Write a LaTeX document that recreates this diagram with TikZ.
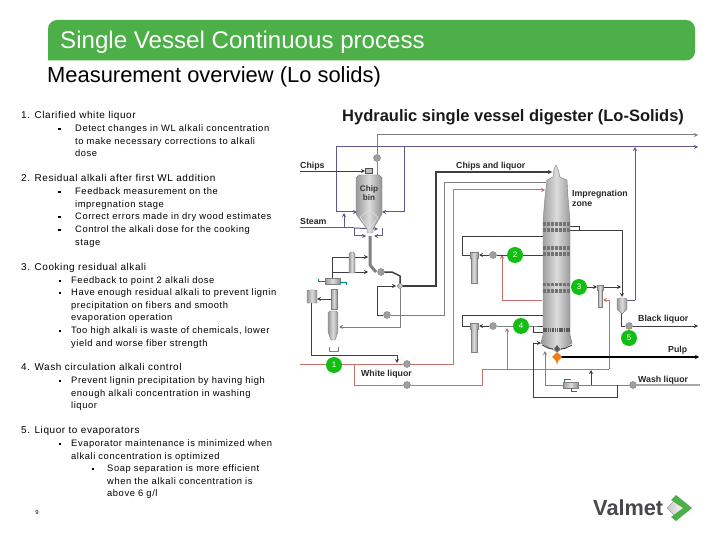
\documentclass[tikz,border=0pt]{standalone}
\usepackage{fontspec}
\usepackage{tikz}
\usetikzlibrary{arrows.meta,positioning}
\setmainfont{Liberation Sans}
\newfontfamily\bodyfont[LetterSpace=6]{Liberation Sans}
\definecolor{headgreen}{RGB}{76,175,72}
\definecolor{dotgreen}{RGB}{18,190,18}
\definecolor{liquorred}{RGB}{200,112,106}
\definecolor{steamblue}{RGB}{92,90,142}
\definecolor{pipegrey}{RGB}{128,128,128}
\definecolor{pipedark}{RGB}{62,62,62}
\definecolor{logogrey}{RGB}{70,72,76}
\tikzset{
	tip/.style={-{Stealth[length=4bp,width=4bp]}},
	bodytext/.style={anchor=north west,inner sep=0pt,align=left,font=\bodyfont\fontsize{9.4}{12.65}\selectfont},
	headtext/.style={anchor=north west,inner sep=0pt,align=left,font=\bodyfont\fontsize{10}{12.65}\selectfont},
	bulletmark/.style={fill=black,inner sep=0pt,minimum size=2.6bp},
	chartlabel/.style={anchor=west,inner sep=0pt,align=left,font=\bfseries\fontsize{8.8}{10}\selectfont,color=black!85},
	pumpdot/.style={circle,draw=gray,fill=gray!75,inner sep=0pt,minimum size=7bp},
	tagdot/.style={circle,fill=dotgreen,inner sep=0pt,minimum size=16bp,text=white,font=\fontsize{8}{9}\selectfont},
	greypipe/.style={color=pipegrey,line width=1bp},
	bluepipe/.style={color=steamblue,line width=1bp},
	darkpipe/.style={color=pipedark,line width=0.9bp},
	redpipe/.style={color=liquorred,line width=1bp},
	vesselfill/.style={left color=gray!80,right color=gray!85,middle color=gray!28,draw=gray,line width=0.4bp},
	screenband/.style={line width=3.6bp,color=gray!90!black,dash pattern=on 2.5bp off 1.5bp},
}
\begin{document}
\begin{tikzpicture}[x=1bp,y=-1bp]
	\useasboundingbox (0,0) rectangle (720,540);
	
	\fill[headgreen,rounded corners=9bp] (48,40) -- (48,20) -- (695,20) -- (695,60.5) -- (60,60.5) [sharp corners] -- (48,60.5) -- cycle;
	\node[anchor=west,inner sep=0pt,text=white,font=\fontsize{24.2}{28}\selectfont] (T) at (60,42.5) {Single Vessel Continuous process};
	\node[anchor=west,inner sep=0pt,font=\fontsize{22}{26}\selectfont] (S) at (47,76.5) {Measurement overview (Lo solids)};
	
	\node[headtext] (N1) at (21,111.5) {1. Clarified white liquor};
	\node[bulletmark] (B1) at (59.5,129) {};
	\node[bodytext] (L1) at (75,124.5) {Detect changes in WL alkali concentration\\to make necessary corrections to alkali\\dose};
	
	\node[headtext] (N2) at (21,174.5) {2. Residual alkali after first WL addition};
	\node[bulletmark] (B2) at (59.5,192) {};
	\node[bodytext] (L2) at (75,187.5) {Feedback measurement on the\\impregnation stage};
	\node[bulletmark] (B3) at (59.5,217) {};
	\node[bodytext] (L3) at (75,212.5) {Correct errors made in dry wood estimates};
	\node[bulletmark] (B4) at (59.5,230) {};
	\node[bodytext] (L4) at (75,225.5) {Control the alkali dose for the cooking\\stage};
	
	\node[headtext] (N3) at (21,263.5) {3. Cooking residual alkali};
	\node[bulletmark] (B5) at (60,281) {};
	\node[bodytext] (L5) at (71,276.5) {Feedback to point 2 alkali dose};
	\node[bulletmark] (B6) at (60,293) {};
	\node[bodytext] (L6) at (71,288.5) {Have enough residual alkali to prevent lignin\\precipitation on fibers and smooth\\evaporation operation};
	\node[bulletmark] (B7) at (60,331) {};
	\node[bodytext] (L7) at (71,326.5) {Too high alkali is waste of chemicals, lower\\yield and worse fiber strength};
	
	\node[headtext] (N4) at (21,363.5) {4. Wash circulation alkali control};
	\node[bulletmark] (B8) at (60,381) {};
	\node[bodytext] (L8) at (71,376.5) {Prevent lignin precipitation by having high\\enough alkali concentration in washing\\liquor};
	
	\node[headtext] (N5) at (21,426.5) {5. Liquor to evaporators};
	\node[bulletmark] (B9) at (60,444) {};
	\node[bodytext] (L9) at (71,439.5) {Evaporator maintenance is minimized when\\alkali concentration is optimized};
	\node[bulletmark] (B10) at (93,469) {};
	\node[bodytext] (L10) at (107,464.5) {Soap separation is more efficient\\when the alkali concentration is\\above 6 g/l};
	
	\node[inner sep=0pt,font=\fontsize{6}{7}\selectfont] (PG) at (37,512) {9};
	
	\node[anchor=west,inner sep=0pt,font=\bfseries\fontsize{16.55}{19}\selectfont,color=black!90] (H) at (342,117) {Hydraulic single vessel digester (Lo-Solids)};
	
	\node[pumpdot] (P1) at (377,158) {};
	\node[pumpdot] (P2) at (381,272) {};
	\node[pumpdot] (P3) at (387,315) {};
	\node[pumpdot] (P4) at (407,364) {};
	\node[pumpdot] (P5) at (407,385) {};
	\node[pumpdot] (P6) at (493,255) {};
	\node[pumpdot] (P7) at (493,326) {};
	\node[pumpdot] (P8) at (629,326) {};
	\node[pumpdot] (P9) at (633,385) {};
	
	\coordinate (GA) at (377,135);
	\coordinate (GB) at (698,135);
	\coordinate (GC) at (377,176);
	\draw[greypipe,tip] (GA)--(GB);
	\draw[greypipe] (GA)--(P1);
	\draw[greypipe] (P1)--(GC);
	
	\coordinate (BA) at (336,147);
	\coordinate (BB) at (698,147);
	\coordinate (BC) at (357,212);
	\coordinate (BD) at (404,147);
	\coordinate (BE) at (382,212);
	\coordinate (BF) at (635,147);
	\coordinate (BG) at (635,300);
	\coordinate (BH) at (627,300);
	\draw[bluepipe,tip] (BA)--(BB);
	\draw[bluepipe,tip] (BA)|-(BC);
	\draw[bluepipe,tip] (BD)|-(BE);
	\draw[bluepipe,tip] (BG)--(BF);
	\draw[bluepipe] (BG)--(BH);
	
	\coordinate (SA) at (300,228);
	\coordinate (SB) at (354,228);
	\coordinate (SC) at (344,228);
	\coordinate (SD) at (344,213);
	\coordinate (SE) at (382,228);
	\coordinate (SF) at (366,236);
	\coordinate (SG) at (374,236);
	\coordinate (SI) at (378,229);
	\draw[bluepipe] (SA)--(SB);
	\draw[bluepipe,tip] (SC)--(SD);
	\draw[bluepipe,tip] (SB)|-(SF);
	\draw[bluepipe,tip] (SE)|-(SG);
	\draw[bluepipe,tip] (SB)--(SI);
	
	\coordinate (CA) at (300,171);
	\coordinate (CB) at (365,171);
	\draw[darkpipe,tip] (CA)--(CB);
	
	\coordinate (DA) at (332,257);
	\coordinate (DB) at (368,257);
	\coordinate (DC) at (332,272);
	\coordinate (DD) at (368,272);
	\coordinate (DE) at (332,280);
	\draw[darkpipe,tip] (DA)--(DB);
	\draw[darkpipe,tip] (DC)--(DD);
	\draw[darkpipe] (DA)--(DE);
	
	\coordinate (KA) at (370,236);
	\coordinate (KB) at (370,265);
	\coordinate (KC) at (376,272);
	\draw[color=gray,line width=3bp,line join=round] (KA)--(KB)--(KC);
	
	\coordinate (KD) at (392,272);
	\coordinate (KE) at (400,276);
	\coordinate (KF) at (400,286);
	\coordinate (KG) at (436,286);
	\coordinate (KH) at (436,172);
	\coordinate (KI) at (552,172);
	\draw[color=pipedark,line width=1.5bp,line join=round] (P2)--(KD)--(KE)--(KF);
	\draw[color=pipedark,line width=1.5bp,tip] (KF)--(KG)--(KH)--(KI);
	
	\coordinate (LA) at (444,315);
	\coordinate (LB) at (444,182);
	\coordinate (LC) at (546,182);
	\coordinate (LD) at (377,315);
	\coordinate (LE) at (377,286);
	\coordinate (LF) at (396,286);
	\draw[greypipe,line width=0.9bp] (P3)--(LA)--(LB)--(LC);
	\draw[darkpipe] (P3)--(LD);
	\draw[darkpipe,tip] (LD)--(LE)--(LF);
	
	\coordinate (MA) at (400,286);
	\coordinate (MB) at (400,327);
	\coordinate (MC) at (339,327);
	\draw[greypipe,tip] (MA)--(MB)--(MC);
	
	\coordinate (QA) at (331,299);
	\coordinate (QB) at (317,299);
	\coordinate (QC) at (311,303);
	\coordinate (QD) at (311,355);
	\coordinate (QE) at (397,355);
	\coordinate (QF) at (397,363);
	\draw[darkpipe,tip] (QA)--(QB);
	\draw[darkpipe,tip] (QC)--(QD)--(QE)--(QF);
	
	\coordinate (RA) at (300,364);
	\coordinate (RB) at (453,364);
	\coordinate (RC) at (453,190);
	\coordinate (RD) at (545,190);
	\coordinate (RE) at (354,364);
	\coordinate (RF) at (354,385);
	\coordinate (RG) at (482,385);
	\coordinate (RH) at (482,369);
	\coordinate (RI) at (609,369);
	\coordinate (RJ) at (609,300);
	\coordinate (RK) at (603,300);
	\coordinate (RL) at (507,369);
	\coordinate (RM) at (507,328);
	\coordinate (RN) at (542,300);
	\coordinate (RO) at (502,300);
	\coordinate (RP) at (502,255);
	\draw[redpipe] (RA)--(P4);
	\draw[redpipe,tip] (P4)--(RB)--(RC)--(RD);
	\draw[redpipe] (RE)--(RF)--(P5);
	\draw[redpipe] (P5)--(RG)--(RH)--(RI);
	\draw[redpipe,tip] (RI)--(RJ)--(RK);
	\draw[redpipe,tip] (RL)--(RM);
	\draw[redpipe,tip] (RN)--(RO)--(RP);
	
	\coordinate (UA) at (462,236);
	\coordinate (UB) at (557,236);
	\coordinate (UC) at (557,243);
	\coordinate (UD) at (462,255);
	\coordinate (UE) at (479,255);
	\coordinate (UF) at (543,255);
	\coordinate (UG) at (470,255);
	\draw[darkpipe,tip] (UD)--(UA)--(UB)--(UC);
	\draw[darkpipe] (UD)--(UG);
	\draw[darkpipe,tip] (P6)--(UE);
	\draw[darkpipe] (P6)--(UF);
	
	\coordinate (VA) at (462,315);
	\coordinate (VB) at (557,315);
	\coordinate (VC) at (557,323);
	\coordinate (VD) at (462,326);
	\coordinate (VE) at (479,326);
	\coordinate (VF) at (533,326);
	\coordinate (VG) at (470,326);
	\coordinate (VH) at (543,326);
	\coordinate (VI) at (533,332);
	\coordinate (VJ) at (543,332);
	\draw[darkpipe,tip] (VD)--(VA)--(VB)--(VC);
	\draw[darkpipe] (VD)--(VG);
	\draw[darkpipe,tip] (P7)--(VE);
	\draw[darkpipe] (P7)--(VF)--(VH);
	\draw[darkpipe] (VF)--(VI)--(VJ);
	
	\coordinate (WA) at (570,226);
	\coordinate (WB) at (579,226);
	\coordinate (WC) at (579,230);
	\coordinate (WD) at (622,230);
	\coordinate (WE) at (622,297);
	\coordinate (WF) at (570,230);
	\draw[darkpipe] (WA)--(WB)--(WC)--(WF);
	\draw[darkpipe,tip] (WC)--(WD)--(WE);
	
	\coordinate (XA) at (587,287);
	\coordinate (XB) at (597,287);
	\coordinate (XC) at (603,287);
	\coordinate (XD) at (621,287);
	\draw[darkpipe,tip] (XA)--(XB);
	\draw[darkpipe,tip] (XC)--(XD);
	
	\coordinate (YA) at (621,313);
	\coordinate (YB) at (621,326);
	\coordinate (YC) at (698,326);
	\draw[darkpipe] (YA)--(YB)--(P8);
	\draw[darkpipe,tip] (P8)--(YC);
	
	\coordinate (ZA) at (557,357);
	\coordinate (ZB) at (699,357);
	\draw[color=black,line width=1.6bp,tip] (ZA)--(ZB);
	
	\coordinate (EA) at (700,385);
	\coordinate (EB) at (545,385);
	\coordinate (EC) at (545,351);
	\coordinate (ED) at (591,385);
	\coordinate (EE) at (591,370);
	\coordinate (EF) at (617,385);
	\coordinate (EG) at (617,397);
	\coordinate (EH) at (533,397);
	\coordinate (EI) at (533,343);
	\coordinate (EJ) at (541,343);
	\draw[greypipe,color=gray!70,line width=1.2bp] (EA)--(P9);
	\draw[greypipe,tip] (P9)--(EB)--(EC);
	\draw[darkpipe,tip] (ED)--(EE);
	\draw[darkpipe,tip] (EF)--(EG)--(EH)--(EI)--(EJ);
	
	\draw[vesselfill] (356,178) -- (359,175) -- (379,175) -- (382,178) -- (382,214) -- (373,229) -- (373,233) -- (367,233) -- (367,229) -- (356,214) -- cycle;
	\draw[color=white!75!gray,line width=0.6bp] (360,217) -- (369,210) -- (378,217) -- (373,224) -- (369,228) -- (365,224) -- cycle;
	\node[rectangle,draw=gray!60!black,fill=gray!50,inner sep=0pt,minimum width=7bp,minimum height=5bp] (FD) at (369,171) {};
	\node[inner sep=0pt,align=center,font=\bfseries\fontsize{8.2}{9}\selectfont,color=black!80] (CL) at (369,193.5) {Chip\\bin};
	
	\draw[vesselfill] (349,254) -- (351,252) -- (353,252) -- (355,254) -- (355,273) -- (349,273) -- cycle;
	\draw[vesselfill] (331,289) rectangle (337,309);
	\draw[vesselfill] (325,278.5) rectangle (340,284.5);
	\draw[color=teal,line width=0.5bp] (325,281) -- (318,281) -- (318,279);
	\draw[color=teal,line width=0.5bp] (340,282) -- (346,282) -- (346,285);
	\draw[vesselfill] (328,313) -- (330,311) -- (336,311) -- (338,313) -- (338,332) -- (335,340) -- (331,340) -- (328,332) -- cycle;
	\draw[color=gray,line width=0.5bp] (329,347) -- (329,351) -- (338,351) -- (338,347);
	\draw[vesselfill] (307,291) -- (308,290) -- (316,290) -- (317,291) -- (317,303) -- (307,303) -- cycle;
	
	\draw[vesselfill] (400,286) circle (2.5bp);
	
	\draw[vesselfill] (553,177) -- (554,169) -- (556,165) -- (558,169) -- (560,177) -- (567,180) -- (568,197) -- (570,221) -- (570,335) -- (572,343) -- (557,352) -- (541,343) -- (543,335) -- (543,221) -- (545,197) -- (547,180) -- cycle;
	\foreach \y in {224,230,248,254,284.5,291} {
		\draw[screenband] (543,\y) -- (570,\y);
	}
	\draw[line width=4bp,color=gray!70!black,dash pattern=on 1.5bp off 0.8bp] (543,329.5) -- (570,329.5);
	\draw[darkpipe] (542,345) .. controls (550,349) .. (553,349);
	\draw[darkpipe] (572,345) .. controls (564,349) .. (561,349);
	\fill[gray!70!black] (557,345) -- (560,349) -- (557,352) -- (554,349) -- cycle;
	\fill[orange!70!brown] (557,352) -- (562,357) -- (558,361) -- (557,365) -- (556,361) -- (552,357) -- cycle;
	
	\draw[vesselfill] (470,252) -- (478,252) -- (478,258) -- (477,258) -- (477,283) -- (471,283) -- (471,258) -- (470,258) -- cycle;
	\draw[vesselfill] (470,323) -- (478,323) -- (478,329) -- (477,329) -- (477,352) -- (471,352) -- (471,329) -- (470,329) -- cycle;
	\draw[vesselfill] (597,285) -- (603,285) -- (603,290) -- (602,290) -- (602,307) -- (598,307) -- (598,290) -- (597,290) -- cycle;
	\draw[vesselfill] (617,299) -- (619,298) -- (625,298) -- (627,299) -- (627,309) -- (622,314) -- (617,309) -- cycle;
	
	\draw[vesselfill] (563,382) rectangle (578,388);
	\draw[color=teal,line width=0.5bp] (564,382) -- (564,379) -- (571,379);
	\draw[color=teal,line width=0.5bp] (571,388) -- (571,391.5) -- (577,391.5);
	
	\node[chartlabel] (C1) at (300,166) {Chips};
	\node[chartlabel] (C2) at (300,221) {Steam};
	\node[chartlabel] (C3) at (456,166) {Chips and liquor};
	\node[chartlabel] (C4) at (572,198.5) {Impregnation\\zone};
	\node[chartlabel] (C5) at (361,374) {White liquor};
	\node[chartlabel] (C6) at (638,319) {Black liquor};
	\node[chartlabel] (C7) at (668,350) {Pulp};
	\node[chartlabel] (C8) at (638,380) {Wash liquor};
	
	\node[tagdot] (D1) at (334,365) {1};
	\node[tagdot] (D2) at (515,255) {2};
	\node[tagdot] (D3) at (579,287) {3};
	\node[tagdot] (D4) at (521,326) {4};
	\node[tagdot] (D5) at (629,338) {5};
	
	\node[anchor=west,inner sep=0pt,font=\bfseries\fontsize{21.8}{25}\selectfont,color=logogrey] (VM) at (593,508) {Valmet};
	\fill[left color=gray!45,right color=gray!5] (667,508) -- (677,498) -- (684,508) -- (677,518) -- cycle;
	\fill[color=headgreen] (676,495) -- (692,508) -- (676,521) -- (671,517) -- (683,508) -- (671,500) -- cycle;
\end{tikzpicture}
\end{document}
